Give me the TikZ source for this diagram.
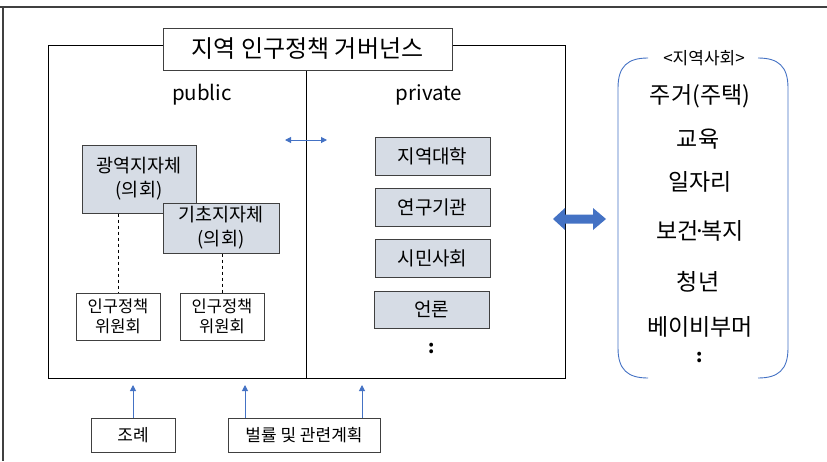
\documentclass[tikz,border=0pt]{standalone}
\usepackage{fontspec}
\setmainfont{Noto Sans CJK KR}
\usetikzlibrary{arrows.meta,calc}
\definecolor{boxfill}{HTML}{D6DCE5}
\definecolor{myblue}{HTML}{4472C4}
\definecolor{edge}{HTML}{404040}
\begin{document}
\begin{tikzpicture}[x=1pt,y=-1pt,
  fs/.style n args={2}{font=\fontsize{#1}{#2}\selectfont},
  gbox/.style={draw=edge,line width=1pt,fill=boxfill,inner sep=0pt,align=center,fs={19}{23}},
  wbox/.style={draw=edge,line width=1pt,fill=white,inner sep=0pt,align=center},
  plain/.style={inner sep=0pt,align=center},
  blue arrow/.style={myblue,line width=1pt,-{Triangle[length=6pt,width=6pt]}},
]
\useasboundingbox (0,0) rectangle (827,461);
% outer frame lines
\draw[edge,line width=1.2pt] (0,7) -- (827,7);
\draw[edge,line width=1.2pt] (3,7) -- (3,461);
% main box
\draw[black,line width=1pt] (48,45) rectangle (565,378);
\draw[black,line width=1pt] (306,45) -- (306,378);
\node[wbox,minimum width=289pt,minimum height=42pt,fs={24}{28}] (title) at (307.5,49) {지역 인구정책 거버넌스};
\node[plain,fs={20.5}{24}] (pub) at (202,95) {public};
\node[plain,fs={20.5}{24}] (priv) at (429,95) {private};
% small double arrow
\coordinate (sa1) at (285,140);
\coordinate (sa2) at (327,140);
\draw[myblue,line width=1pt,{Triangle[length=6pt,width=6pt]}-{Triangle[length=6pt,width=6pt]}] (sa1) -- (sa2);
% public boxes
\node[gbox,minimum width=114pt,minimum height=68pt,fs={18.5}{24}] (gw) at (139,179) {광역지자체\\(의회)};
\node[gbox,minimum width=116pt,minimum height=50pt,fs={18.5}{24}] (kc) at (221,228) {기초지자체\\(의회)};
\node[wbox,minimum width=84pt,minimum height=47pt,fs={16.5}{19.5}] (c1) at (118,316.5) {인구정책\\위원회};
\node[wbox,minimum width=84pt,minimum height=47pt,fs={16.5}{19.5}] (c2) at (222,316.5) {인구정책\\위원회};
\draw[dashed,black,line width=0.8pt] (gw.south -| c1.north) -- (c1.north);
\draw[dashed,black,line width=0.8pt] (kc.south -| c2.north) -- (c2.north);
% private boxes
\node[gbox,minimum width=115pt,minimum height=38pt] (p1) at (432.5,156) {지역대학};
\node[gbox,minimum width=115pt,minimum height=38pt] (p2) at (432.5,207) {연구기관};
\node[gbox,minimum width=115pt,minimum height=38pt] (p3) at (432.5,258) {시민사회};
\node[gbox,minimum width=115pt,minimum height=37pt] (p4) at (431.5,309.5) {언론};
\node[plain,fs={18}{22}] (pdots) at (432,348) {\textbf{:}};
% big double arrow
\fill[myblue] (553,219) -- (565,208) -- (565,214.5) -- (593,214.5) -- (593,208) -- (606,219)
  -- (593,230) -- (593,223.5) -- (565,223.5) -- (565,230) -- cycle;
% right brackets
\draw[myblue,line width=0.9pt] (648,58) .. controls (628,58) and (618,66) .. (618,88) -- (618,348) .. controls (618,370) and (628,378) .. (648,378);
\draw[myblue,line width=0.9pt] (758,58) .. controls (778,58) and (788,66) .. (788,88) -- (788,348) .. controls (788,370) and (778,378) .. (758,378);
\node[plain,fs={17}{20}] (soc) at (704,58) {<지역사회>};
\node[plain,fs={23}{27}] (r1) at (700,96) {주거(주택)};
\node[plain,fs={23}{27}] (r2) at (698,139) {교육};
\node[plain,fs={23}{27}] (r3) at (700,182) {일자리};
\node[plain,fs={23}{27}] (r4) at (700,231) {보건\kern-0.22em·\kern-0.22em복지};
\node[plain,fs={23}{27}] (r5) at (698,282) {청년};
\node[plain,fs={23}{27}] (r6) at (700,327) {베이비부머};
\node[plain,fs={18}{22}] (rdots) at (700,357) {\textbf{:}};
% bottom boxes
\node[wbox,minimum width=84pt,minimum height=34pt,fs={17}{20}] (law1) at (133,435) {조례};
\node[wbox,minimum width=152pt,minimum height=34pt,fs={17}{20}] (law2) at (304,435) {벌률 및 관련계획};
\coordinate (t1) at (133,385);
\coordinate (t2) at (245,385);
\coordinate (t3) at (362,385);
\draw[blue arrow] (law1.north) -- (t1);
\draw[blue arrow] (law2.north -| t2) -- (t2);
\draw[blue arrow] (law2.north -| t3) -- (t3);
\end{tikzpicture}
\end{document}
